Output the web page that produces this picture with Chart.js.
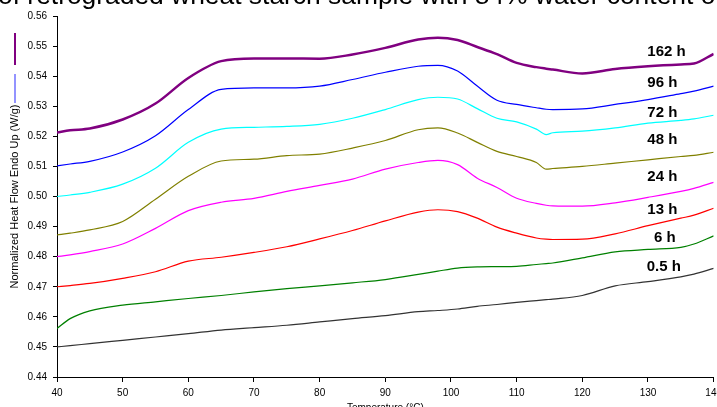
<!DOCTYPE html>
<html>
<head>
<meta charset="utf-8">
<script src="https://cdn.jsdelivr.net/npm/chart.js@4.4.1/dist/chart.umd.min.js"></script>
<style>
    html, body { margin: 0; padding: 0; background: #fff; width: 717px; height: 407px; overflow: hidden; position: relative; }
    #wrap { position: absolute; left: 0; top: 0; width: 727px; height: 420px; }
    #title { position: absolute; left: -2px; top: -18px; font: 26.4px "Liberation Sans", Arial, sans-serif; line-height: 26px; white-space: nowrap; color: #000; }
</style>
</head>
<body>
<div id="wrap"><canvas id="dsc-chart"></canvas></div>
<div id="title">of retrograded wheat starch sample with 84% water content of</div>
<script>
// temperature (°C)
var temps = [40, 42, 45, 50, 55, 60, 65, 70, 75, 80, 85, 90, 95, 98, 101, 104, 107, 110, 113, 114.5, 115.5, 120, 125, 130, 135, 137, 140];

// normalized heat flow (W/g), one array per storage time
var h162 = [0.5213, 0.5220, 0.5226, 0.5256, 0.5309, 0.5394, 0.5450, 0.5459, 0.5459, 0.5458, 0.5472, 0.5494, 0.5522, 0.5528, 0.5520, 0.5497, 0.5473, 0.5444, 0.5430, 0.5425, 0.5422, 0.5409, 0.5424, 0.5433, 0.5439, 0.5442, 0.5474];
var h96  = [0.5102, 0.5108, 0.5117, 0.5148, 0.5202, 0.5289, 0.5356, 0.5361, 0.5361, 0.5367, 0.5389, 0.5413, 0.5433, 0.5436, 0.5417, 0.5367, 0.5320, 0.5306, 0.5295, 0.5290, 0.5289, 0.5291, 0.5306, 0.5322, 0.5342, 0.5350, 0.5367];
var h72  = [0.5000, 0.5005, 0.5014, 0.5041, 0.5094, 0.5180, 0.5224, 0.5230, 0.5233, 0.5240, 0.5260, 0.5289, 0.5322, 0.5330, 0.5324, 0.5292, 0.5260, 0.5248, 0.5224, 0.5206, 0.5212, 0.5217, 0.5228, 0.5244, 0.5253, 0.5258, 0.5270];
var h48  = [0.4872, 0.4878, 0.4889, 0.4917, 0.4991, 0.5067, 0.5118, 0.5124, 0.5136, 0.5141, 0.5161, 0.5186, 0.5222, 0.5228, 0.5211, 0.5180, 0.5150, 0.5133, 0.5113, 0.5091, 0.5093, 0.5100, 0.5111, 0.5122, 0.5133, 0.5137, 0.5147];
var h24  = [0.4800, 0.4806, 0.4817, 0.4842, 0.4894, 0.4953, 0.4981, 0.4994, 0.5017, 0.5037, 0.5058, 0.5091, 0.5113, 0.5120, 0.5106, 0.5061, 0.5030, 0.4994, 0.4977, 0.4971, 0.4969, 0.4968, 0.4979, 0.4997, 0.5017, 0.5027, 0.5047];
var h13  = [0.4700, 0.4704, 0.4711, 0.4728, 0.4750, 0.4785, 0.4798, 0.4814, 0.4833, 0.4859, 0.4887, 0.4919, 0.4948, 0.4956, 0.4950, 0.4928, 0.4898, 0.4878, 0.4862, 0.4858, 0.4857, 0.4858, 0.4876, 0.4903, 0.4928, 0.4938, 0.4961];
var h6   = [0.4561, 0.4594, 0.4620, 0.4639, 0.4650, 0.4661, 0.4671, 0.4683, 0.4694, 0.4703, 0.4713, 0.4724, 0.4741, 0.4752, 0.4762, 0.4766, 0.4767, 0.4768, 0.4774, 0.4777, 0.4779, 0.4796, 0.4816, 0.4824, 0.4831, 0.4842, 0.4869];
var h05  = [0.4500, 0.4504, 0.4511, 0.4522, 0.4533, 0.4544, 0.4556, 0.4564, 0.4572, 0.4583, 0.4594, 0.4604, 0.4617, 0.4621, 0.4626, 0.4635, 0.4641, 0.4648, 0.4654, 0.4657, 0.4659, 0.4671, 0.4703, 0.4717, 0.4733, 0.4742, 0.4761];

var seriesNames = ["162 h", "96 h", "72 h", "48 h", "24 h", "13 h", "6 h", "0.5 h"];
var seriesData = [h162, h96, h72, h48, h24, h13, h6, h05];
var seriesColors = ["#800080", "#0000ff", "#00ffff", "#808000", "#ff00ff", "#ff0000", "#008000", "#333333"];

// where the curve names sit (temperature, heat flow)
var labelTemps = [129.9, 129.9, 129.9, 129.9, 129.9, 129.9, 130.9, 129.8];
var labelValues = [0.5482, 0.5378, 0.5278, 0.5188, 0.5065, 0.4957, 0.4864, 0.4765];

Chart.defaults.font.family = '"Liberation Sans", Arial, sans-serif';
Chart.defaults.color = '#000';

function toPoints(values) {
    var pts = [];
    for (var i = 0; i < temps.length; i++) {
        pts.push({ x: temps[i], y: values[i] });
    }
    return pts;
}

var datasets = [];
for (var i = 0; i < seriesNames.length; i++) {
    datasets.push({
        label: seriesNames[i],
        data: toPoints(seriesData[i]),
        borderColor: seriesColors[i],
        backgroundColor: seriesColors[i],
        borderWidth: i === 0 ? 2.5 : 1.2,
        pointRadius: 0,
        cubicInterpolationMode: 'monotone',
        fill: false
    });
}

// curve names next to the lines
var curveLabels = {
    id: 'curveLabels',
    afterDatasetsDraw: function (chart) {
        var ctx = chart.ctx;
        var xs = chart.scales.x, ys = chart.scales.y;
        ctx.save();
        ctx.font = 'bold 15px "Liberation Sans", Arial, sans-serif';
        ctx.fillStyle = '#000';
        ctx.textAlign = 'left';
        ctx.textBaseline = 'middle';
        for (var i = 0; i < seriesNames.length; i++) {
            ctx.fillText(seriesNames[i], xs.getPixelForValue(labelTemps[i]), ys.getPixelForValue(labelValues[i]));
        }
        ctx.restore();
    }
};

// the two small legend strokes at the left edge
var legendStrokes = {
    id: 'legendStrokes',
    afterDraw: function (chart) {
        var ctx = chart.ctx;
        ctx.save();
        ctx.lineWidth = 2;
        ctx.strokeStyle = '#800080';
        ctx.beginPath(); ctx.moveTo(15, 33); ctx.lineTo(15, 65); ctx.stroke();
        ctx.lineWidth = 1.5;
        ctx.strokeStyle = '#6f6fff';
        ctx.beginPath(); ctx.moveTo(15, 74); ctx.lineTo(15, 103); ctx.stroke();
        ctx.restore();
    }
};

var ctx = document.getElementById('dsc-chart').getContext('2d');
var myChart = new Chart(ctx, {
    type: 'line',
    data: { datasets: datasets },
    plugins: [curveLabels, legendStrokes],
    options: {
        responsive: true,
        maintainAspectRatio: false,
        animation: false,
        layout: { padding: { top: 16, left: 0, right: 0, bottom: 0 } },
        plugins: {
            legend: { display: false },
            tooltip: { enabled: false }
        },
        scales: {
            x: {
                type: 'linear',
                min: 40,
                max: 140,
                afterFit: function (s) { s.height = 43; },
                ticks: { stepSize: 10, padding: 5, font: { size: 10 }, maxRotation: 0 },
                grid: { drawOnChartArea: false, drawTicks: true, tickLength: 5, color: '#000' },
                border: { color: '#000', width: 1 },
                title: { display: true, text: 'Temperature (°C)', font: { size: 10 }, padding: { top: 0, bottom: 6 } }
            },
            y: {
                min: 0.44,
                max: 0.56,
                afterFit: function (s) { s.width = 57; },
                ticks: {
                    stepSize: 0.01,
                    padding: 6,
                    font: { size: 10 },
                    callback: function (v) { return v.toFixed(2); }
                },
                grid: { drawOnChartArea: false, drawTicks: true, tickLength: 4, color: '#000' },
                border: { color: '#000', width: 1 },
                title: { display: true, text: 'Normalized Heat Flow Endo Up (W/g)', font: { size: 11 }, padding: { top: 8, bottom: 0 } }
            }
        }
    }
});
</script>
</body>
</html>
